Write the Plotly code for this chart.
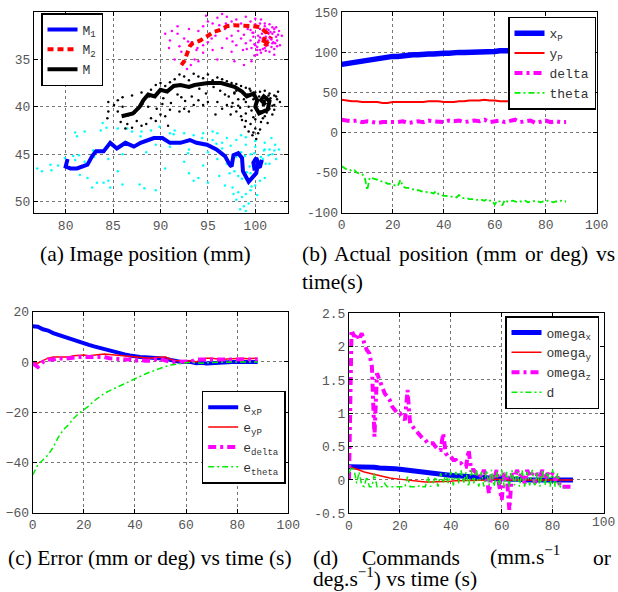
import plotly.graph_objects as go

# ---------------- Panel (a): image position ----------------
m1_x = [80.2, 80.0, 80.5, 81.2, 82.3, 82.8, 83.2, 84.0, 84.7, 85.4, 86.3, 87.2, 87.9, 88.6, 89.3, 90.2, 91.0, 92.1, 93.1,
        93.8, 94.9, 95.9, 96.8, 97.3, 97.5, 97.7, 98.2, 98.6, 98.7, 99.3, 99.6, 100.1, 100.3, 100.1, 99.8, 99.9, 100.5, 100.7]
m1_y = [45.5, 46.3, 46.5, 46.5, 46.1, 45.2, 44.7, 44.7, 43.8, 44.4, 43.8, 44.2, 43.8, 43.5, 43.3, 43.3, 43.8, 43.8, 43.5,
        43.8, 44.0, 44.5, 45.2, 46.1, 46.3, 45.1, 44.9, 45.4, 46.8, 47.9, 47.5, 47.0, 45.9, 45.4, 45.9, 46.5, 46.3, 45.6]
m2_x = [92.2, 92.5, 92.8, 93.1, 93.4, 94.2, 95.0, 95.6, 96.3, 97.0, 97.7, 98.4, 99.1, 99.8, 100.5, 101.2, 100.8, 101.0, 101.7]
m2_y = [35.6, 35.2, 34.4, 33.6, 33.3, 33.0, 32.5, 32.1, 31.9, 31.5, 31.4, 31.4, 31.5, 31.5, 31.6, 32.2, 33.3, 33.6, 32.6]
m_x = [85.9, 86.5, 87.1, 87.8, 88.2, 88.7, 89.4, 90.0, 90.7, 91.4, 92.1, 93.0, 93.6, 95.0, 96.4, 97.8, 98.6, 99.1, 99.8,
       100.2, 100.0, 100.4, 101.3, 101.5, 100.9, 100.6, 101.1]
m_y = [41.0, 40.9, 40.7, 40.0, 39.3, 38.7, 38.9, 38.2, 38.4, 37.8, 37.7, 37.9, 37.7, 37.5, 37.5, 37.9, 38.4, 38.9, 38.6,
       39.3, 40.0, 40.7, 40.3, 39.4, 38.9, 39.3, 39.8]

m1_pts_x = [77, 77.5, 78.5, 79.2, 81, 81.2, 82, 83.7, 83.9, 84.3, 85.5, 86.5, 87, 88, 89, 91, 91.5, 92.5, 93.5, 94.5,
            95.5, 96, 97, 98, 99, 100, 101, 101.5, 102, 102.5, 101.8, 102.2, 101.5, 99.5, 98.5, 98, 96.5, 95, 93, 91,
            89.5, 88.5, 86, 84.5, 83, 82, 81, 80.8, 81.5, 82.3, 83.3, 84, 84.7, 86, 87.8, 88.3, 89.5, 93, 93.5, 94,
            95, 96.2, 96.8, 97.3, 97.6, 98.2, 98.6, 99, 99.5, 98, 98.8, 99.3, 98.4, 99, 100, 100.5, 101, 99.5, 100.3,
            100.8, 97.8, 97, 96, 94.5, 92.5, 90.5, 85.5, 84.5, 82.8, 100.2, 101, 100, 99, 96.5, 98.5, 95.5,
            98.9, 99.4, 99.9, 100.4, 100.9, 101.4, 98.6, 99.1, 99.6, 100.1, 100.6, 101.1, 97.4, 96.9, 95.9, 94.4,
            92.9, 91.4, 89.9, 87.9, 86.4, 84.9, 82.9, 81.4, 79.9, 78.4, 102.1, 101.7, 98.2, 97.7]
m1_pts_y = [46.5, 46.8, 46.7, 46.2, 42.7, 43.1, 42.6, 42.5, 41.7, 42.2, 42.3, 42.3, 42.6, 42.6, 42.5, 42.8, 42.5, 42.8,
            43, 42.8, 43.5, 42.8, 43.3, 43.5, 43.2, 43.6, 43.8, 44.5, 44.6, 44.5, 45, 45.5, 46, 45, 44.8, 45.3, 44.4,
            44.8, 44.5, 44.2, 44, 44.8, 45, 45.5, 45.3, 45.8, 45.6, 45.2, 47.2, 47.5, 48, 48, 48.5, 48.2, 48.2, 48.6,
            48.8, 47, 47.8, 47.5, 48, 47.3, 48.3, 47, 48.5, 49, 49.5, 49.2, 48.8, 49.8, 50.5, 50.2, 50.8, 51, 48.3,
            47.8, 47.5, 47, 46, 45.5, 46.8, 46, 45.5, 46.2, 45.8, 46.5, 46.8, 47.8, 48.5, 49.3, 44.5, 44.2, 44, 43.8,
            43, 42.6,
            45.2, 46.3, 44.9, 45.8, 44.6, 45.1, 47.6, 46.9, 48.4, 47.1, 45.3, 46.0, 44.1, 45.3, 43.9, 43.3,
            44.9, 42.9, 42.1, 43.1, 43.7, 44.1, 44.6, 45.1, 45.4, 46.1, 44.0, 43.3, 47.3, 49.2]
m_pts_x = [84.5, 85.5, 86, 87, 88, 89, 89.5, 90, 90.5, 91, 91.5, 92, 92.5, 93, 93.5, 94, 94.5, 95, 95.5, 96, 96.5, 97,
           97.5, 98, 98.5, 99, 99.5, 100, 100.5, 101, 101.5, 102, 102.3, 102.6, 102, 101.5, 101.8, 101, 100, 99.5,
           100, 99.8, 100.3, 99, 98.5, 98, 97.5, 97, 96.5, 96, 95, 94.5, 94, 93.5, 92.5, 92, 91, 90.5, 90, 89.5, 89,
           88.5, 88, 87.5, 87, 86.5, 86, 85.5, 84.5, 86.3, 90.8, 93, 95.8, 99.3, 100.8, 101.2, 100.5, 99.8, 99, 98.2,
           97.8, 96.8, 92.2, 90.2, 88.7,
           97.2, 97.6, 98.0, 98.4, 98.8, 99.2, 99.6, 100.0, 100.4, 100.8, 101.2, 101.6, 102.0, 102.4, 97.4, 97.8,
           98.2, 98.6, 99.0, 99.4, 99.8, 100.2, 100.6, 101.0, 101.4, 101.8, 102.2, 96.3, 95.6, 94.8, 94.1, 93.3,
           92.6, 91.8, 91.1, 90.3, 89.6, 88.8, 88.1, 87.3, 86.6, 85.8, 85.1, 84.4, 98.9, 99.7, 100.5, 101.3, 100.1, 99.3]
m_pts_y = [39.5, 39.3, 39, 38.8, 38.5, 38.2, 37.7, 37.5, 37.8, 37.4, 37.1, 36.6, 36.8, 37.2, 36.5, 36.8, 37, 36.6,
           37.2, 36.9, 37.1, 37.3, 37.5, 37.6, 37.8, 38, 38.3, 38.5, 38.4, 38.3, 38.6, 38.8, 39.2, 39.5, 39.8, 40.2,
           40.8, 41, 41.3, 41.8, 42.3, 42.7, 42.8, 41.5, 41, 40.5, 40, 39.8, 40.2, 39.5, 39.5, 39.8, 39.3, 39.8, 40.2,
           40.5, 40.3, 41, 40.8, 41.5, 41.2, 41.8, 42, 41.5, 42.2, 41.8, 40, 40.5, 40.5, 42.3, 42, 40.5, 40.8, 40,
           39.8, 39, 40.5, 39.2, 39.5, 39.2, 38.5, 38.7, 39, 39.7, 40,
           38.9, 39.6, 38.3, 40.1, 39.2, 38.7, 40.4, 39.8, 38.9, 41.2, 40.6, 39.1, 40.3, 38.4, 40.8, 38.6,
           39.9, 41.4, 40.7, 38.1, 41.1, 39.5, 41.6, 39.4, 38.8, 39.9, 38.9, 38.3, 37.9, 38.6, 38.1, 38.9,
           39.4, 38.7, 39.6, 39.1, 40.2, 38.9, 39.7, 40.6, 40.9, 41.6, 39.8, 41.2, 42.1, 43.0, 42.4, 41.7, 43.4, 42.6]
m2_pts_x = [90.5, 91.2, 91.8, 91, 92, 92.2, 91.5, 92.8, 93.2, 93.6, 94, 94.5, 93.8, 93.3, 94.5, 95, 95.5, 96, 96.5, 97,
            94, 94.5, 95, 95.5, 96, 96.5, 97, 97.5, 98, 98.5, 99, 99.5, 100, 100.5, 101, 101.5, 102, 102.5, 102.8,
            102.3, 101.8, 101, 100.5, 100, 99.5, 99, 98.5, 98, 97.5, 97.5, 98.7, 100.2, 101.5, 102, 102.6, 101.8,
            100.8, 99.8, 100.6, 101.2, 101.6, 100.3, 101.3, 102.2, 99.2, 96.8, 95.8, 92.5, 93, 97.8, 98.8, 99.6,
            99.5, 99.8, 100.1, 100.4, 100.7, 101.0, 101.3, 101.6, 101.9, 102.2, 99.6, 99.9, 100.2, 100.5, 100.8,
            101.1, 101.4, 101.7, 102.0, 102.3, 99.7, 100.0, 100.3, 100.6, 100.9, 101.2, 101.5, 101.8, 102.1, 102.4,
            99.9, 100.2, 100.5, 100.8, 101.1, 101.4, 101.7, 102.0, 98.8, 99.1, 98.2, 97.6, 96.9, 96.2, 95.4, 94.8,
            93.9, 92.9, 91.8, 90.9]
m2_pts_y = [32.3, 32, 32.3, 33, 33.6, 34.2, 35, 36, 35.6, 35, 35.2, 34.3, 34, 33.2, 33.5, 33.2, 34, 35, 33.8, 32.8,
            32, 31.5, 31, 31.2, 30.6, 30.2, 30.5, 31, 30.8, 31.2, 30.5, 31, 30.7, 31.2, 31.5, 31.3, 31.8, 32, 32.5,
            33, 33.3, 33.8, 34, 33.5, 33, 33.3, 32.8, 33.5, 34.2, 32.5, 34, 34.5, 34.2, 34.5, 33.5, 32.3, 32.8, 32.2,
            30.8, 31.8, 32.8, 33.2, 33, 32.6, 31.8, 31.8, 32.5, 32.8, 31.8, 35.2, 35.6, 35.2,
            31.9, 32.6, 31.6, 33.0, 32.3, 31.2, 33.5, 32.1, 33.2, 31.6, 33.8, 33.4, 34.0, 32.7, 33.9,
            32.6, 31.9, 33.7, 32.1, 33.6, 32.2, 31.3, 32.5, 34.3, 31.9, 33.2, 32.7, 31.6, 33.3, 32.4,
            34.6, 33.7, 31.8, 32.9, 34.1, 32.3, 32.9, 33.9, 32.4, 33.9, 32.0, 33.1, 31.2, 31.4, 32.8, 30.4,
            33.8, 33.1, 31.5, 33.8]

# ---------------- Panel (b): actual position ----------------
t_b = list(range(0, 89, 2))
x_p = [85, 86, 88, 89, 90, 91, 92, 93, 93, 94, 95, 95, 96, 96, 97, 97, 98, 98, 98, 99, 99, 99, 100, 100, 100,
       100, 101, 101, 101, 101, 101, 102, 102, 102, 102, 102, 102, 103, 103, 103, 103, 103, 103, 103, 103]
y_p = [41, 40, 39, 39, 38, 38, 38, 38, 37, 37, 38, 38, 38, 38, 38, 38, 38, 39, 39, 39, 38, 38, 38, 39, 39,
       40, 40, 40, 41, 40, 40, 39, 39, 39, 39, 40, 40, 39, 40, 40, 40, 39, 40, 40, 40]
delta = [16, 15, 14, 15, 13, 14, 13, 12, 13, 13, 12, 13, 14, 12, 13, 14, 13, 15, 14, 14, 13, 15, 14, 15, 13,
         14, 15, 14, 16, 13, 14, 15, 13, 14, 16, 13, 14, 15, 12, 14, 15, 13, 14, 13, 13]
t_theta = list(range(0, 89))
theta = [-42, -44, -46, -46, -48, -47, -50, -51, -52, -55, -72, -56, -57, -58, -59, -61, -61, -62, -64, -64,
         -65, -66, -67, -59, -67, -69, -69, -70, -71, -72, -72, -73, -74, -74, -75, -75, -76, -73, -77, -78,
         -79, -79, -80, -80, -80, -81, -78, -81, -82, -82, -83, -83, -83, -84, -84, -84, -85, -83, -85, -85,
         -90, -85, -86, -91, -84, -86, -86, -85, -86, -87, -86, -86, -85, -87, -86, -86, -85, -86, -87, -86,
         -86, -85, -86, -87, -86, -86, -85, -86, -86]

# ---------------- Panel (c): error ----------------
t_c = list(range(0, 89, 2))
e_xp = [14.2, 14, 13, 12.5, 11.5, 10.8, 10, 9.2, 8.7, 8, 7.4, 6.8, 6.2, 5.6, 5.2, 4.8, 4.2, 3.4, 3, 2.6, 2.2, 2,
        1.9, 1.8, 1.6, 1.5, 1.3, 0.8, 0.2, 0, 0, 0, -0.5, -0.3, -0.6, -0.4, -0.3, -0.2, -0.2, 0, 0, 0.1, 0, -0.1, 0]
e_yp = [0, -0.5, 0.5, 1.5, 2, 2, 2.2, 2, 2.5, 2.8, 2.8, 2.5, 2.8, 3, 3.2, 3, 2.8, 2.8, 2.5, 2.3, 2, 1.8, 1.8,
        1.5, 1.8, 2, 2, 1, 0.5, 0.5, 0.3, 0.5, 0, 1, 1.5, 1.5, 1.2, 1, 1.2, 1.3, 1.2, 1.5, 1.3, 1.5, 1.5]
e_delta = [-0.5, -2, 0, 1, 1, 1.5, 1.2, 1.5, 2, 2, 2, 2, 1.8, 2, 2, 1.5, 1.5, 1.2, 1, 1, 0.5, 0.8, 0.5, 0.5, 1,
           1.2, 0.5, 0, 0, 0, 0.3, 0.2, 1, 1, 1.2, 1, 0.8, 1, 1, 0.8, 1, 1.2, 1, 1.2, 1]
e_theta = [-45, -41, -39, -37, -34, -30, -27, -25, -22.5, -20.5, -19, -17.5, -15.5, -14, -12.5, -11.5, -10.5,
           -9.5, -8.5, -7.5, -6.5, -5.5, -4.8, -4, -3.2, -2.5, -1.8, -1.2, -0.8, -0.5, -0.3, -0.2, -0.3, -0.5,
           -0.3, -0.2, 0, 0, 0, 0, 0, 0, 0, 0, 0]

# ---------------- Panel (d): commands ----------------
t_d = list(range(0, 89, 2))
omega_x = [0.2, 0.2, 0.2, 0.2, 0.19, 0.19, 0.18, 0.18, 0.17, 0.17, 0.16, 0.15, 0.14, 0.13, 0.12, 0.11, 0.1, 0.09,
           0.09, 0.08, 0.07, 0.06, 0.06, 0.05, 0.05, 0.04, 0.04, 0.03, 0.03, 0.02, 0.02, 0.01, 0.01, 0.01, 0, 0, 0,
           0, 0, 0, 0, 0, 0, 0, 0]
omega_y = [0.2, 0.18, 0.15, 0.12, 0.1, 0.08, 0.06, 0.05, 0.03, 0.02, 0.01, 0, 0, -0.01, -0.02, -0.03, -0.03, -0.03,
           -0.02, -0.02, -0.02, -0.01, -0.01, 0, 0, 0, 0, 0, 0, 0.01, 0, 0, 0, 0, 0, 0, 0, 0, 0, 0, 0, 0, 0, 0, 0]
t_z = list(range(0, 89))
omega_z = [0, 2.25, 2.15, 2.2, 2.1, 2.2, 2.05, 1.95, 1.9, 1.7, 0.65, 1.6, 1.5, 1.4, 1.3, 1.25, 1.2, 1.1, 1.05, 1.0,
           1.0, 0.95, 0.9, 1.35, 0.85, 0.8, 0.75, 0.7, 0.65, 0.62, 0.6, 0.55, 0.55, 0.55, 0.5, 0.45, 0.45, 0.7, 0.4,
           0.35, 0.35, 0.3, 0.3, 0.25, 0.25, 0.2, 0.2, 0.45, 0.15, 0.15, 0.1, 0.12, 0.05, 0.15, 0.05, -0.2, 0.1, 0.0,
           0.15, -0.05, -0.3, 0.1, 0.05, -0.45, 0.1, 0.0, 0.15, 0.05, 0.1, -0.05, 0.15, 0.05, 0.1, -0.05, 0.1, 0.05,
           0.15, 0.0, 0.1, 0.05, 0.1, 0.0, 0.05, -0.1, -0.1, -0.1, -0.1, -0.1, -0.1]
t_dd = list(range(0, 86))
d_cmd = [0.1, 0.2, 0.15, -0.05, 0.12, -0.08, -0.1, 0.05, -0.1, -0.1, 0.1, -0.1, -0.1, -0.1, -0.05, -0.1, -0.1, -0.1,
         -0.1, -0.1, -0.1, -0.1, -0.1, 0.05, -0.1, -0.1, -0.1, -0.1, -0.08, -0.1, -0.1, 0.05, -0.1, -0.05, 0.05,
         -0.1, 0.1, -0.05, 0.1, -0.05, 0.12, -0.08, 0.12, -0.05, 0.15, -0.05, 0.12, -0.1, 0.15, -0.05, 0.15, -0.1,
         0.12, -0.1, 0.15, -0.08, 0.15, -0.1, 0.12, -0.08, 0.15, -0.1, 0.12, -0.1, 0.15, -0.08, 0.12, -0.1, 0.15,
         -0.1, 0.12, -0.08, 0.15, -0.1, 0.12, -0.1, 0.15, -0.08, 0.12, -0.1, 0.15, -0.1, 0.1, -0.1, -0.12, -0.12]

# ---------------- Figure ----------------
W, H = 618, 592
BLUE, RED, MAG, GRN, CYAN = "#0000ff", "#ff0000", "#ff00ff", "#00ee00", "#00ffff"
MONO = "Liberation Mono, Courier New, DejaVu Sans Mono, monospace"
SERIF = "Liberation Serif, Times New Roman, serif"

fig = go.Figure()

# panel a
fig.add_trace(go.Scatter(x=m1_pts_x, y=m1_pts_y, mode="markers", marker=dict(color=CYAN, size=2.5),
                         showlegend=False, xaxis="x", yaxis="y"))
fig.add_trace(go.Scatter(x=m2_pts_x, y=m2_pts_y, mode="markers", marker=dict(color=MAG, size=2.5),
                         showlegend=False, xaxis="x", yaxis="y"))
fig.add_trace(go.Scatter(x=m_pts_x, y=m_pts_y, mode="markers", marker=dict(color="black", size=2.5),
                         showlegend=False, xaxis="x", yaxis="y"))
fig.add_trace(go.Scatter(x=m1_x, y=m1_y, mode="lines", name="M<sub>1</sub>", line=dict(color=BLUE, width=4),
                         xaxis="x", yaxis="y", legend="legend"))
fig.add_trace(go.Scatter(x=m2_x, y=m2_y, mode="lines", name="M<sub>2</sub>",
                         line=dict(color=RED, width=4, dash="6px,4px"), xaxis="x", yaxis="y", legend="legend"))
fig.add_trace(go.Scatter(x=m_x, y=m_y, mode="lines", name="M", line=dict(color="black", width=4),
                         xaxis="x", yaxis="y", legend="legend"))

# panel b
fig.add_trace(go.Scatter(x=t_b, y=x_p, mode="lines", name="x<sub>P</sub>", line=dict(color=BLUE, width=5.5),
                         xaxis="x2", yaxis="y2", legend="legend2"))
fig.add_trace(go.Scatter(x=t_b, y=y_p, mode="lines", name="y<sub>P</sub>", line=dict(color=RED, width=2),
                         xaxis="x2", yaxis="y2", legend="legend2"))
fig.add_trace(go.Scatter(x=t_b, y=delta, mode="lines", name="delta",
                         line=dict(color=MAG, width=4, dash="8px,4px,3px,4px"), xaxis="x2", yaxis="y2", legend="legend2"))
fig.add_trace(go.Scatter(x=t_theta, y=theta, mode="lines", name="theta",
                         line=dict(color=GRN, width=1.8, dash="6px,3px,2px,3px"), xaxis="x2", yaxis="y2", legend="legend2"))

# panel c
fig.add_trace(go.Scatter(x=t_c, y=e_xp, mode="lines", name="e<sub>xP</sub>", line=dict(color=BLUE, width=4),
                         xaxis="x3", yaxis="y3", legend="legend3"))
fig.add_trace(go.Scatter(x=t_c, y=e_yp, mode="lines", name="e<sub>yP</sub>", line=dict(color=RED, width=1.5),
                         xaxis="x3", yaxis="y3", legend="legend3"))
fig.add_trace(go.Scatter(x=t_c, y=e_delta, mode="lines", name="e<sub>delta</sub>",
                         line=dict(color=MAG, width=4, dash="8px,4px,3px,4px"), xaxis="x3", yaxis="y3", legend="legend3"))
fig.add_trace(go.Scatter(x=t_c, y=e_theta, mode="lines", name="e<sub>theta</sub>",
                         line=dict(color=GRN, width=1.5, dash="6px,3px,2px,3px"), xaxis="x3", yaxis="y3", legend="legend3"))

# panel d
fig.add_trace(go.Scatter(x=t_d, y=omega_x, mode="lines", name="omega<sub>x</sub>", line=dict(color=BLUE, width=5),
                         xaxis="x4", yaxis="y4", legend="legend4"))
fig.add_trace(go.Scatter(x=t_d, y=omega_y, mode="lines", name="omega<sub>y</sub>", line=dict(color=RED, width=1.5),
                         xaxis="x4", yaxis="y4", legend="legend4"))
fig.add_trace(go.Scatter(x=t_z, y=omega_z, mode="lines", name="omega<sub>z</sub>",
                         line=dict(color=MAG, width=4, dash="8px,4px,3px,4px"), xaxis="x4", yaxis="y4", legend="legend4"))
fig.add_trace(go.Scatter(x=t_dd, y=d_cmd, mode="lines", name="d",
                         line=dict(color=GRN, width=1.5, dash="6px,3px,2px,3px"), xaxis="x4", yaxis="y4", legend="legend4"))


def px_x(a, b):
    return [a / W, b / W]


def px_y(top, bottom):
    return [1 - bottom / H, 1 - top / H]


base = dict(showline=True, linecolor="black", linewidth=1, mirror="allticks", ticks="inside", ticklen=4,
            tickcolor="black", showgrid=True, gridcolor="#777777", griddash="dot", gridwidth=1, zeroline=False,
            automargin=False, ticklabeloverflow="allow", tickfont=dict(family=MONO, size=13, color="#555555"))

D4_RIGHT = 603.5
fig.update_layout(
    width=W, height=H, margin=dict(l=0, r=0, t=0, b=0, pad=0), autosize=False,
    paper_bgcolor="white", plot_bgcolor="white",
    xaxis=dict(base, domain=px_x(34, 288), range=[76.66, 103.45], anchor="y",
               tickvals=[80, 85, 90, 95, 100], ticktext=["80", "85", "90", "95", "100"]),
    yaxis=dict(base, domain=px_y(12, 213), range=[51.2, 30.0], anchor="x",
               tickvals=[35, 40, 45, 50], ticktext=["35", "40", "45", "50"]),
    xaxis2=dict(base, domain=px_x(341.7, 596.7), range=[0, 100], anchor="y2",
                tickvals=[0, 20, 40, 60, 80, 100], ticktext=["0", "20", "40", "60", "80", "100"]),
    yaxis2=dict(base, domain=px_y(12.3, 212.7), range=[-100, 150], anchor="x2",
                tickvals=[-100, -50, 0, 50, 100, 150], ticktext=["-100", "-50", "0", "50", "100", "150"]),
    xaxis3=dict(base, domain=px_x(32.7, 288.3), range=[0, 100], anchor="y3",
                tickvals=[0, 20, 40, 60, 80, 100], ticktext=["0", "20", "40", "60", "80", "100"]),
    yaxis3=dict(base, domain=px_y(311.7, 512.7), range=[-60, 20], anchor="x3",
                tickvals=[-60, -40, -20, 0, 20], ticktext=["\u221260", "\u221240", "\u221220", "0", "20"]),
    xaxis4=dict(base, domain=px_x(349, D4_RIGHT), range=[0, 100], anchor="y4",
                tickvals=[0, 20, 40, 60, 80], ticktext=["0", "20", "40", "60", "80"]),
    yaxis4=dict(base, domain=px_y(313.3, 513.3), range=[-0.5, 2.5], anchor="x4",
                tickvals=[-0.5, 0, 0.5, 1, 1.5, 2, 2.5], ticktext=["-0.5", "0", "0.5", "1", "1.5", "2", "2.5"]),
)

leg = dict(bgcolor="white", bordercolor="black", borderwidth=1.5, font=dict(family=MONO, size=13, color="#333333"),
           itemwidth=30, tracegroupgap=0)
fig.update_layout(
    legend=dict(leg, x=41 / W, y=1 - 13 / H, xanchor="left", yanchor="top"),
    legend2=dict(leg, x=596 / W, y=1 - 16.7 / H, xanchor="right", yanchor="top"),
    legend3=dict(leg, x=285.7 / W, y=1 - 390.7 / H, xanchor="right", yanchor="top"),
    legend4=dict(leg, x=599 / W, y=1 - 316 / H, xanchor="right", yanchor="top"),
)

# last x tick label of panel (d), which sits at the page edge: placed on the axis value itself
fig.add_annotation(text="100", x=100, xref="x4", y=1 - 522 / H, yref="paper", xanchor="center", yanchor="middle",
                   showarrow=False, font=dict(family=MONO, size=13, color="#555555"), borderpad=0, borderwidth=0)

cap_font = dict(family=SERIF, size=21.5, color="black")


def cap(text, x, y, xanchor="left"):
    fig.add_annotation(text=text, x=x / W, y=1 - y / H, xref="paper", yref="paper", xanchor=xanchor,
                       yanchor="middle", showarrow=False, font=cap_font, borderpad=0, borderwidth=0)


cap("(a) Image position (mm)", 145.5, 254, "center")
# justified first line of caption (b)
for word, xl in [("(b)", 301.7), ("Actual", 334.4), ("position", 399.1), ("(mm", 475.8), ("or", 524.5),
                 ("deg)", 550.2), ("vs", 595.9)]:
    cap(word, xl, 254)
cap("time(s)", 301.7, 282)
cap("(c) Error (mm or deg) vs time (s)", 150, 557.5, "center")
# justified first line of caption (d)
cap("(d)", 313, 557.5)
cap("Commands", 361.7, 557.5)
cap("(mm.s<sup>\u22121</sup>", 490, 555)
cap("or", 593.3, 557.5)
cap("deg.s<sup>\u22121</sup>) vs time (s)", 313, 577)

fig.write_html("out.html", config={"displayModeBar": False},
               post_script="document.body.style.margin='0px';document.body.style.overflow='hidden';")
